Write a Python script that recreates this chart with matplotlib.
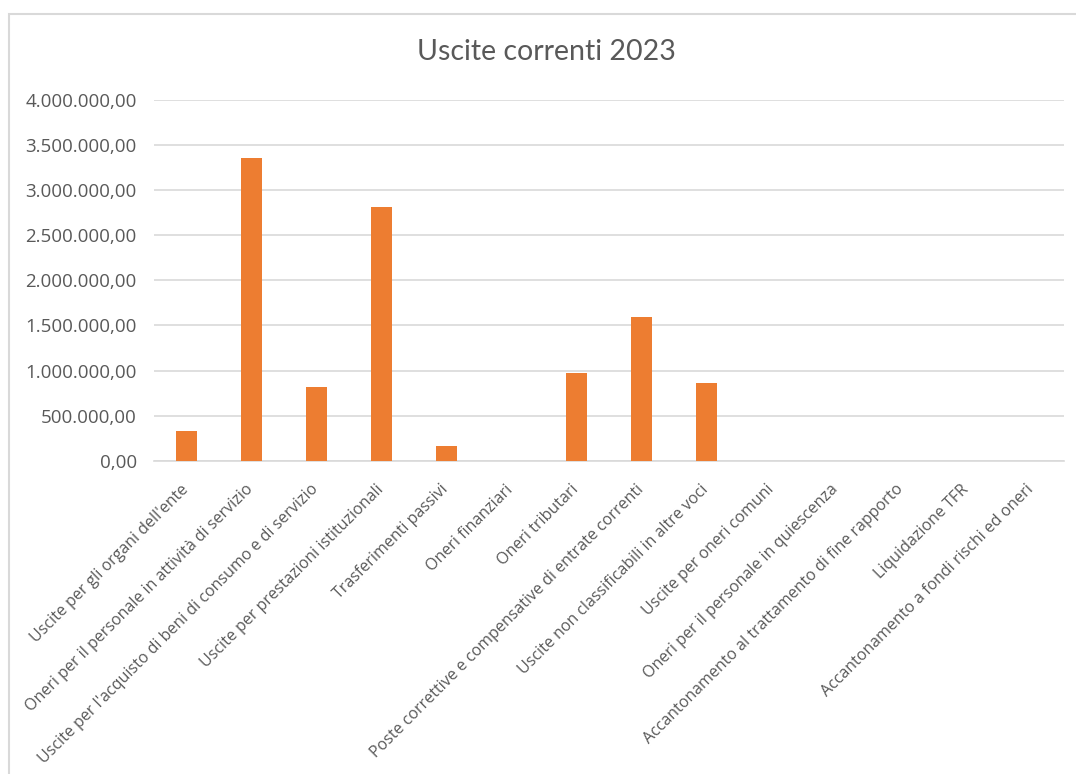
import matplotlib
matplotlib.use("Agg")
import matplotlib.pyplot as plt
from matplotlib.patches import Rectangle
from matplotlib.ticker import FuncFormatter, MultipleLocator
from matplotlib.transforms import ScaledTranslation

categorie = [
    "Uscite per gli organi dell'ente",
    "Oneri per il personale in attività di servizio",
    "Uscite per l'acquisto di beni di consumo e di servizio",
    "Uscite per prestazioni istituzionali",
    "Trasferimenti passivi",
    "Oneri finanziari",
    "Oneri tributari",
    "Poste correttive e compensative di entrate correnti",
    "Uscite non classificabili in altre voci",
    "Uscite per oneri comuni",
    "Oneri per il personale in quiescenza",
    "Accantonamento al trattamento di fine rapporto",
    "Liquidazione TFR",
    "Accantonamento a fondi rischi ed oneri",
]
importi = [
    333000, 3353000, 817000, 2810000, 159000, 0, 972000,
    1593000, 865000, 0, 0, 0, 0, 0,
]
titolo = "Uscite correnti 2023"

ARANCIO = "#ED7D31"
GRIGIO_TESTO = "#595959"
GRIGIO_LINEE = "#D9D9D9"

plt.rcParams["font.family"] = ["Open Sans", "DejaVu Sans"]

W, H = 1076, 774
fig = plt.figure(figsize=(W / 100, H / 100), dpi=100)
fig.patch.set_facecolor("white")
ax = fig.add_axes([154 / W, 1 - 460.7 / H, (1064 - 154) / W, (460.7 - 100) / H])

x = range(len(categorie))
ax.bar(x, importi, width=0.31, color=ARANCIO, zorder=3)

ax.set_xlim(-0.5, len(categorie) - 0.5)
ax.set_ylim(0, 4000000)
ax.yaxis.set_major_locator(MultipleLocator(500000))


def formato_it(v, _pos):
    s = f"{v:,.2f}"
    return s.replace(",", "X").replace(".", ",").replace("X", ".")


ax.yaxis.set_major_formatter(FuncFormatter(formato_it))
ax.grid(axis="y", color=GRIGIO_LINEE, linewidth=1.2, zorder=0)
ax.grid(axis="x", visible=False)
for lato in ("top", "right", "left"):
    ax.spines[lato].set_visible(False)
ax.spines["bottom"].set_color(GRIGIO_LINEE)
ax.spines["bottom"].set_linewidth(1.2)
ax.tick_params(axis="both", length=0, colors=GRIGIO_TESTO)
ax.tick_params(axis="y", labelsize=13.5, pad=12.5)

ax.set_xticks(list(x))
ax.set_xticklabels(categorie, rotation=45, ha="right", va="top",
                   rotation_mode="anchor", fontsize=11.5, color=GRIGIO_TESTO)
ax.tick_params(axis="x", pad=15)
spostamento = ScaledTranslation(-6 / 100, 0, fig.dpi_scale_trans)
for etichetta in ax.get_xticklabels():
    etichetta.set_transform(etichetta.get_transform() + spostamento)

fig.text(546 / W, 1 - 52 / H, titolo, ha="center", va="center",
         fontsize=20.5, color=GRIGIO_TESTO, family=["Lato", "DejaVu Sans"])

# Bordo dell'area del grafico
fig.patches.append(Rectangle((8.5 / W, -0.1), 1.2, 1.1 - 14.5 / H,
                             transform=fig.transFigure, fill=False,
                             edgecolor=GRIGIO_LINEE, linewidth=1.5, clip_on=False))

fig.savefig("out.png", dpi=100, facecolor="white")
